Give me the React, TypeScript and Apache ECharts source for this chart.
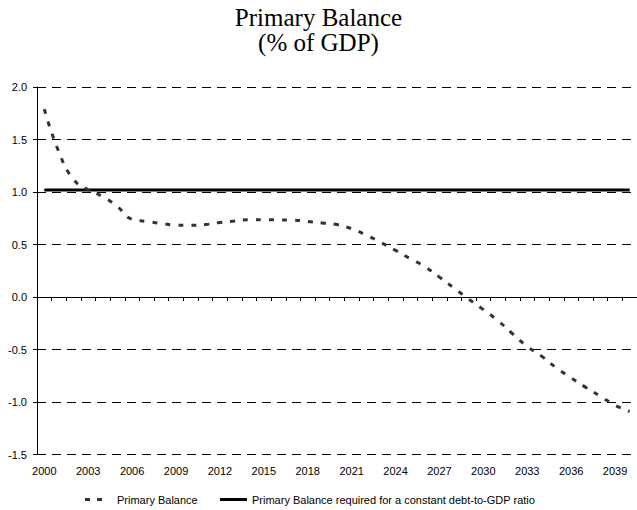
import { useEffect, useRef } from "react";
import * as echarts from "echarts";

const years = [
  "2000", "2001", "2002", "2003", "2004", "2005", "2006", "2007", "2008", "2009",
  "2010", "2011", "2012", "2013", "2014", "2015", "2016", "2017", "2018", "2019",
  "2020", "2021", "2022", "2023", "2024", "2025", "2026", "2027", "2028", "2029",
  "2030", "2031", "2032", "2033", "2034", "2035", "2036", "2037", "2038", "2039",
  "2040",
];

const primaryBalance = [
  1.79, 1.38, 1.12, 1.02, 0.955, 0.86, 0.74, 0.72, 0.70, 0.685,
  0.683, 0.69, 0.71, 0.724, 0.737, 0.737, 0.735, 0.733, 0.72, 0.705,
  0.69, 0.65, 0.59, 0.52, 0.445, 0.366, 0.29, 0.19, 0.085, -0.02,
  -0.12, -0.225, -0.35, -0.47, -0.565, -0.675, -0.77, -0.86, -0.945, -1.03,
  -1.09,
];

const requiredBalance = [
  1.02, 1.02, 1.02, 1.02, 1.02, 1.02, 1.02, 1.02, 1.02, 1.02,
  1.02, 1.02, 1.02, 1.02, 1.02, 1.02, 1.02, 1.02, 1.02, 1.02,
  1.02, 1.02, 1.02, 1.02, 1.02, 1.02, 1.02, 1.02, 1.02, 1.02,
  1.02, 1.02, 1.02, 1.02, 1.02, 1.02, 1.02, 1.02, 1.02, 1.02,
  1.02,
];

const seriesNames = [
  "Primary Balance",
  "Primary Balance required for a constant debt-to-GDP ratio",
];

const titleText = "Primary Balance\n(% of GDP)";

export default function App() {
  const ref = useRef<HTMLDivElement>(null);

  useEffect(() => {
    if (!ref.current) return;
    const chart = echarts.init(ref.current, undefined, { renderer: "svg" });
    const sans = "Liberation Sans, Arial, sans-serif";
    chart.setOption({
      animation: false,
      backgroundColor: "#ffffff",
      title: {
        text: titleText,
        left: "center",
        top: 5,
        padding: 0,
        textStyle: {
          fontFamily: "Liberation Serif, Times New Roman, serif",
          fontSize: 25,
          fontWeight: "normal",
          color: "#000",
          lineHeight: 25,
        },
      },
      legend: [
        {
          data: [
            {
              name: seriesNames[0],
              icon: "path://M0 0h5v3H0zM12 0h5v3h-5z",
              itemStyle: { color: "#333" },
            },
          ],
          left: 85,
          top: 494,
          itemWidth: 17,
          itemHeight: 3,
          padding: 0,
          textStyle: {
            fontFamily: sans,
            fontSize: 11,
            color: "#000",
            padding: [0, 0, 0, 10],
          },
        },
        {
          data: [
            {
              name: seriesNames[1],
              icon: "rect",
              itemStyle: { color: "#000" },
            },
          ],
          left: 220,
          top: 494,
          itemWidth: 27,
          itemHeight: 3,
          padding: 0,
          textStyle: { fontFamily: sans, fontSize: 11, color: "#000" },
        },
      ],
      grid: { left: 37, top: 87, width: 601.5, height: 367.6 },
      xAxis: [
        {
          type: "category",
          data: years,
          boundaryGap: true,
          axisLine: { show: true, onZero: true, lineStyle: { color: "#000", width: 1 } },
          axisTick: { show: true, interval: 0, length: 4, lineStyle: { color: "#000" } },
          axisLabel: { show: false },
          splitLine: { show: false },
        },
        {
          type: "category",
          data: years,
          position: "bottom",
          boundaryGap: true,
          axisLine: { show: false, onZero: false },
          axisTick: { show: false },
          axisLabel: {
            show: true,
            interval: 2,
            margin: 11,
            fontFamily: sans,
            fontSize: 11,
            color: "#000",
          },
          splitLine: { show: false },
        },
      ],
      yAxis: {
        type: "value",
        min: -1.5,
        max: 2.0,
        interval: 0.5,
        axisLine: { show: true, lineStyle: { color: "#000", width: 1 } },
        axisTick: { show: true, length: 4, lineStyle: { color: "#000" } },
        axisLabel: {
          margin: 10,
          fontFamily: sans,
          fontSize: 11,
          color: "#000",
          formatter: (v: number) => v.toFixed(1),
        },
        splitLine: {
          show: true,
          lineStyle: { color: "#000", width: 1, type: [9, 6] },
        },
      },
      series: [
        {
          name: seriesNames[0],
          type: "line",
          xAxisIndex: 0,
          data: primaryBalance,
          smooth: true,
          symbol: "none",
          lineStyle: { color: "#333", width: 3, type: [5, 8] },
          itemStyle: { color: "#333" },
          z: 3,
        },
        {
          name: seriesNames[1],
          type: "line",
          xAxisIndex: 0,
          data: requiredBalance,
          symbol: "none",
          lineStyle: { color: "#000", width: 3, type: "solid" },
          itemStyle: { color: "#000" },
          z: 2,
        },
      ],
    });
    return () => chart.dispose();
  }, []);

  return <div ref={ref} style={{ width: 637, height: 510, position: "absolute", left: 0, top: 0 }} />;
}
